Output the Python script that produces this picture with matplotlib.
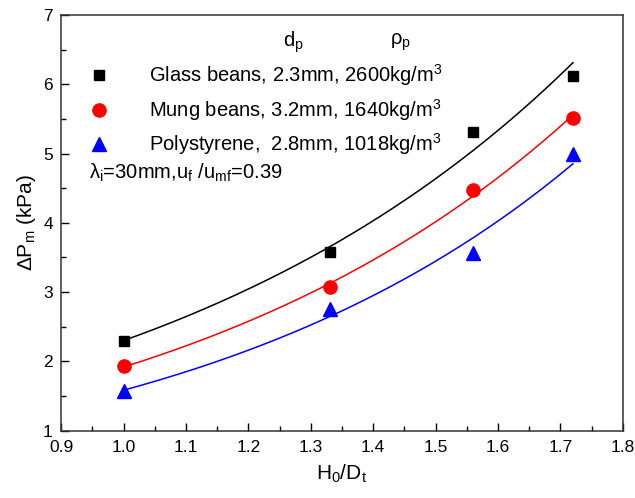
import numpy as np
import matplotlib
matplotlib.use("Agg")
import matplotlib.pyplot as plt
from matplotlib.lines import Line2D

plt.rcParams['font.family'] = ['Liberation Sans', 'DejaVu Sans']
plt.rcParams['mathtext.fontset'] = 'custom'
plt.rcParams['mathtext.rm'] = 'Liberation Sans'
plt.rcParams['mathtext.it'] = 'Liberation Sans'
plt.rcParams['mathtext.bf'] = 'Liberation Sans:bold'

# Bed height ratio H0/Dt
h_ratio = [1.0, 1.33, 1.56, 1.72]

# Pressure drop (kPa) for each particle type
glass = [2.30, 3.58, 5.31, 6.12]
mung = [1.93, 3.07, 4.47, 5.52]
polystyrene = [1.57, 2.76, 3.56, 4.99]

labels = [
    "Glass beans, 2.3mm, 2600kg/m$^3$",
    "Mung beans, 3.2mm, 1640kg/m$^3$",
    "Polystyrene,  2.8mm, 1018kg/m$^3$",
]
colors = ["black", "#ff0000", "#0000ff"]
markers = ["s", "o", "^"]
msizes = [7.5, 9.5, 10]

fig = plt.figure(figsize=(6.35, 4.98), dpi=100)
W, H = 635, 498
ax = fig.add_axes([61.2 / W, 1 - 430.7 / H, (622.8 - 61.2) / W, (430.7 - 15) / H])

handles = []
for ys, c, m, ms, lab in zip([glass, mung, polystyrene], colors, markers, msizes, labels):
    x = np.array(h_ratio)
    y = np.array(ys)
    # exponential fit  y = a*exp(b*x)
    b, lna = np.polyfit(x, np.log(y), 1)
    xf = np.linspace(x.min(), x.max(), 200)
    ax.plot(xf, np.exp(lna + b * xf), color=c, lw=1.1)
    ax.plot(x, y, linestyle="none", marker=m, ms=ms, color=c, mec=c)
    handles.append(Line2D([], [], linestyle="none", marker=m, ms=ms, color=c, label=lab))

ax.set_xlim(0.9, 1.8)
ax.set_ylim(1, 7)
ax.set_xticks(np.arange(0.9, 1.81, 0.1))
ax.set_xticks(np.arange(0.95, 1.8, 0.1), minor=True)
ax.set_yticks(np.arange(1, 8, 1))
ax.set_yticks(np.arange(1.5, 7, 1), minor=True)
ax.tick_params(direction="in", which="major", length=6, width=1, labelsize=12.5, pad=7)
ax.tick_params(direction="in", which="minor", length=3.5, width=1)
ax.tick_params(axis="y", which="major", pad=6)
for s in ax.spines.values():
    s.set_linewidth(1.1)
    s.set_color("#333333")

ax.set_xlabel("H$_0$/D$_t$", fontsize=15, labelpad=5)
ax.set_ylabel("ΔP$_m$ (kPa)", fontsize=15, labelpad=4)

leg = ax.legend(handles=handles, loc="upper left", bbox_to_anchor=(0.035, 0.905),
                frameon=False, fontsize=14.5, handlelength=1.0, handletextpad=2.0,
                labelspacing=0.42, borderaxespad=0)

ax.text(0.413, 0.935, "d$_p$", transform=ax.transAxes, fontsize=14.5, ha="center", va="center")
ax.text(0.605, 0.935, "ρ$_p$", transform=ax.transAxes, fontsize=14.5, ha="center", va="center")
ax.text(0.05, 0.62, "λ$_i$=30mm,u$_f$ /u$_{mf}$=0.39", transform=ax.transAxes,
        fontsize=14.5, ha="left", va="center")

fig.savefig("out.png", dpi=100)
